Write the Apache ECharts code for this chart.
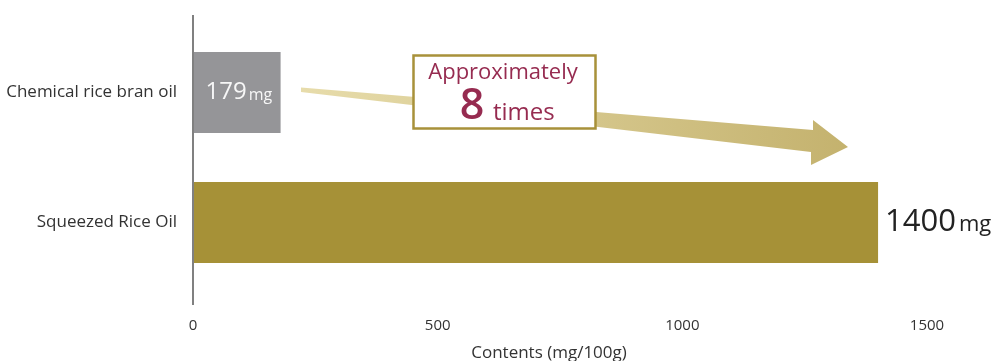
<!DOCTYPE html>
<html>
<head>
<meta charset="utf-8">
<script src="https://cdn.jsdelivr.net/npm/echarts@6/dist/echarts.min.js"></script>
<style>
  html, body { margin: 0; padding: 0; background: #fff; overflow: hidden; }
  #chart { width: 996px; height: 361px; }
</style>
</head>
<body>
<div id="chart"></div>
<script>
// Oryzanol-type content per 100 g of oil
const categories = ['Chemical rice bran oil', 'Squeezed Rice Oil'];
const values = [179, 1400];
const unit = 'mg';
const xTicks = [0, 500, 1000, 1500];
const axisName = 'Contents (mg/100g)';
const ratioText = ['Approximately', '8', 'times'];

const FONT = '"Open Sans", "Noto Sans", sans-serif';
const grid = {
  left: 193, top: 27.5, width: 734, height: 260,
  containLabel: false, outerBoundsMode: 'none'
};

const chart = echarts.init(document.getElementById('chart'), null, {
  renderer: 'canvas', width: 996, height: 361
});

const barColors = ['#959598', '#a69137'];

const seriesData = values.map((v, i) => ({
  value: v,
  itemStyle: { color: barColors[i] },
  label: i === 0 ? {
    show: true,
    position: 'inside',
    offset: [2, 0],
    formatter: '{v|' + v + '}{u|' + unit + '}',
    rich: {
      v: { fontFamily: FONT, fontSize: 24, color: '#f7f7f7', verticalAlign: 'bottom' },
      u: { fontFamily: FONT, fontSize: 16, color: '#f7f7f7', verticalAlign: 'bottom', padding: [0, 0, 1, 2] }
    }
  } : {
    show: true,
    position: 'right',
    distance: 7,
    formatter: '{v|' + v + '}{u|' + unit + '}',
    rich: {
      v: { fontFamily: FONT, fontSize: 31, color: '#222', verticalAlign: 'bottom' },
      u: { fontFamily: FONT, fontSize: 22, color: '#222', verticalAlign: 'bottom', padding: [0, 0, 2, 3] }
    }
  }
}));

// Tapered arrow from the small bar toward the large one
const arrowPts = [
  [301, 87.5], [813, 130], [813, 120], [848, 147],
  [811, 165], [811, 152], [301, 92]
];

const option = {
  animation: false,
  grid: grid,
  xAxis: {
    type: 'value',
    min: xTicks[0],
    max: xTicks[xTicks.length - 1],
    interval: xTicks[1] - xTicks[0],
    axisLine: { show: false },
    axisTick: { show: false },
    splitLine: { show: false },
    axisLabel: {
      fontFamily: FONT, fontSize: 15, color: '#333', margin: 31,
      formatter: (v) => String(v)
    },
    name: axisName,
    nameLocation: 'middle',
    nameGap: 57,
    nameTextStyle: { fontFamily: FONT, fontSize: 17, color: '#333', padding: [0, 22, 0, 0] }
  },
  yAxis: {
    type: 'category',
    inverse: true,
    data: categories,
    axisLine: { show: false },
    axisTick: { show: false },
    splitLine: { show: false },
    axisLabel: { fontFamily: FONT, fontSize: 17, color: '#333', margin: 16 }
  },
  series: [{
    type: 'bar',
    barWidth: 81,
    data: seriesData
  }],
  graphic: [
    {
      type: 'line',
      z: 10,
      shape: { x1: grid.left, y1: 15, x2: grid.left, y2: 305 },
      style: { stroke: '#808080', lineWidth: 2 }
    },
    {
      type: 'polygon',
      z: 5,
      shape: { points: arrowPts },
      style: {
        fill: new echarts.graphic.LinearGradient(0, 0, 1, 0, [
          { offset: 0, color: '#e7dcab' },
          { offset: 1, color: '#c4b26e' }
        ])
      }
    },
    {
      type: 'rect',
      z: 6,
      shape: { x: 413.5, y: 55.5, width: 182, height: 73 },
      style: { fill: '#fff', stroke: '#a8913a', lineWidth: 2.5 }
    },
    {
      type: 'text',
      z: 7,
      x: 503, y: 72.5,
      style: { text: ratioText[0], fontFamily: FONT, fontSize: 22, fill: '#962b50', align: 'center', verticalAlign: 'middle' }
    },
    {
      type: 'text',
      z: 7,
      x: 472, y: 107,
      style: { text: ratioText[1], fontFamily: FONT, fontSize: 43, fontWeight: 600, fill: '#962b50', align: 'center', verticalAlign: 'middle' }
    },
    {
      type: 'text',
      z: 7,
      x: 493, y: 113.5,
      style: { text: ratioText[2], fontFamily: FONT, fontSize: 24, fill: '#962b50', align: 'left', verticalAlign: 'middle' }
    }
  ]
};

chart.setOption(option);
</script>
</body>
</html>
